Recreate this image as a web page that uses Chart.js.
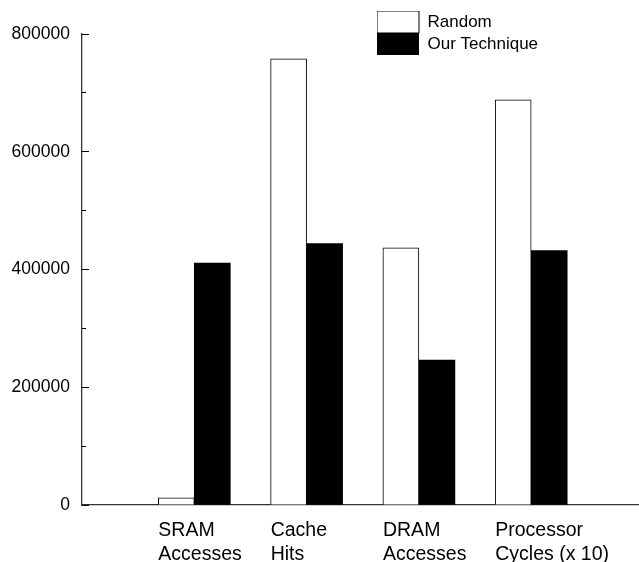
<!DOCTYPE html>
<html>
<head>
<meta charset="utf-8">
<script src="https://cdn.jsdelivr.net/npm/chart.js@4.4.1/dist/chart.umd.min.js"></script>
<style>
  html, body { margin: 0; padding: 0; background: #fff; }
  #wrap { width: 639px; height: 562px; }
</style>
</head>
<body>
<div id="wrap"><canvas id="bars" width="639" height="562"></canvas></div>
<script>
const categories = [['SRAM', 'Accesses'], ['Cache', 'Hits'], ['DRAM', 'Accesses'], ['Processor', 'Cycles (x 10)']];
const randomValues = [12000, 758000, 437000, 688000];
const techniqueValues = [411000, 444000, 246000, 432000];
const yTickValues = [0, 200000, 400000, 600000, 800000];
const yMinorValues = [0, 100000, 200000, 300000, 400000, 500000, 600000, 700000, 800000];

Chart.defaults.font.family = '"Liberation Sans", Arial, Helvetica, sans-serif';
Chart.defaults.color = '#000';

// the legend sits in the top right corner, over the plot
const legendSpot = {
    id: 'legendSpot',
    afterLayout(chart) {
        const lg = chart.legend;
        if (!lg) return;
        const h = lg.height;
        const w = lg.width;
        lg.left = 377;
        lg.top = 11;
        lg.right = lg.left + w;
        lg.bottom = lg.top + h;
    }
};

const ctx = document.getElementById('bars').getContext('2d');
new Chart(ctx, {
    type: 'bar',
    data: {
        datasets: [
            {
                label: 'Random',
                data: randomValues.map((v, i) => ({ x: i + 1, y: v })),
                backgroundColor: '#fff',
                borderColor: '#000',
                borderWidth: 1,
                barThickness: 36
            },
            {
                label: 'Our Technique',
                data: techniqueValues.map((v, i) => ({ x: i + 1, y: v })),
                backgroundColor: '#000',
                borderColor: '#000',
                borderWidth: 0,
                barThickness: 36
            }
        ]
    },
    options: {
        responsive: false,
        animation: false,
        devicePixelRatio: 1,
        layout: { padding: { top: 34, right: 0, bottom: 0, left: 0 } },
        plugins: {
            legend: {
                position: 'chartArea',
                align: 'start',
                labels: {
                    boxWidth: 42,
                    boxHeight: 22,
                    padding: 0,
                    font: { size: 17 },
                    color: '#000'
                }
            },
            tooltip: { enabled: false }
        },
        scales: {
            x: {
                type: 'linear',
                min: 0,
                max: 4.96,
                offset: false,
                grid: { display: false, drawTicks: false },
                border: { display: true, color: '#333', width: 1.3 },
                afterBuildTicks: (scale) => {
                    scale.ticks = categories.map((c, i) => ({ value: i + 1 - 0.32 }));
                },
                afterFit: (scale) => { scale.height = 57; },
                ticks: {
                    autoSkip: false,
                    maxRotation: 0,
                    align: 'start',
                    padding: 13,
                    font: { size: 19.5, lineHeight: 1.25 },
                    callback: (v, i) => categories[i]
                }
            },
            y: {
                type: 'linear',
                position: 'left',
                min: 0,
                max: 800000,
                afterBuildTicks: (scale) => {
                    scale.ticks = yTickValues.map(v => ({ value: v }));
                },
                afterFit: (scale) => { scale.width = 82; },
                grid: { drawOnChartArea: false, drawTicks: true, tickLength: -7, color: '#000', tickWidth: 1 },
                border: { display: true, color: '#333', width: 1.3 },
                ticks: {
                    padding: 19,
                    font: { size: 17.5 },
                    callback: (v) => String(v)
                }
            },
            yMinor: {
                type: 'linear',
                axis: 'y',
                position: { x: 0 },
                min: 0,
                max: 800000,
                afterBuildTicks: (scale) => {
                    scale.ticks = yMinorValues.map(v => ({ value: v }));
                },
                grid: { drawOnChartArea: false, drawTicks: true, tickLength: -4, color: '#000', tickWidth: 1 },
                border: { display: false },
                ticks: { display: false }
            }
        }
    },
    plugins: [legendSpot]
});
</script>
</body>
</html>
